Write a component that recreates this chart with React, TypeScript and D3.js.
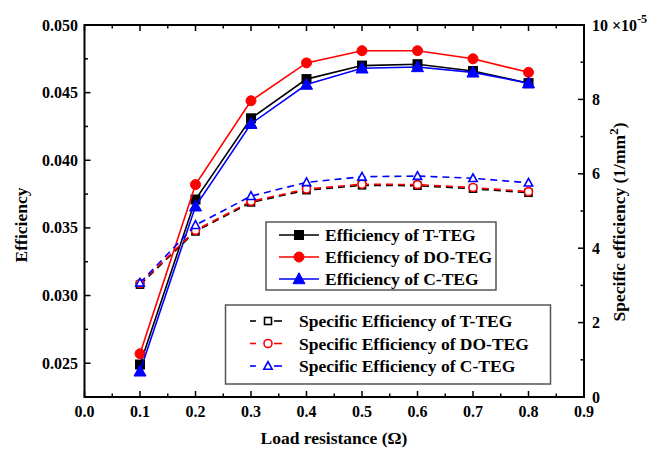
import React from "react";
import * as d3 from "d3";

// Load resistance (Ω)
const loads = [0.1, 0.2, 0.3, 0.4, 0.5, 0.6, 0.7, 0.8];

// Efficiency (left axis)
const effT = [0.0249, 0.0371, 0.0431, 0.0460, 0.0470, 0.0471, 0.0466, 0.0457];
const effDO = [0.0257, 0.0382, 0.0444, 0.0472, 0.0481, 0.0481, 0.0475, 0.0465];
const effC = [0.0244, 0.0366, 0.0427, 0.0456, 0.0468, 0.0469, 0.0465, 0.0457];

// Specific efficiency, in units of 1e-5 1/mm² (right axis)
const specT = [3.02, 4.45, 5.23, 5.56, 5.69, 5.68, 5.60, 5.49];
const specDO = [3.05, 4.48, 5.26, 5.59, 5.72, 5.71, 5.63, 5.52];
const specC = [3.07, 4.62, 5.40, 5.77, 5.92, 5.94, 5.88, 5.76];

const xTicks = [0, 0.1, 0.2, 0.3, 0.4, 0.5, 0.6, 0.7, 0.8, 0.9];
const leftTicks = [0.025, 0.03, 0.035, 0.04, 0.045, 0.05];
const rightTicks = [0, 2, 4, 6, 8, 10];

const effLegend = ["Efficiency of T-TEG", "Efficiency of DO-TEG", "Efficiency of C-TEG"];
const specLegend = [
  "Specific Efficiency of T-TEG",
  "Specific Efficiency of DO-TEG",
  "Specific Efficiency of C-TEG",
];

const W = 659;
const H = 453;
const L = 84.5;
const R = 584;
const T = 25;
const B = 397;
const FONT = '"Liberation Serif", "DejaVu Serif", serif';
const TICK_FS = 16;
const TEXT_FS = 17.5;

const x = d3.scaleLinear().domain([0, 0.9]).range([L, R]);
const yL = d3.scaleLinear().domain([0.0225, 0.05]).range([B, T]);
const yR = d3.scaleLinear().domain([0, 10]).range([B, T]);

type Shape = "square" | "circle" | "triangle";

function Marker({ cx, cy, shape, color, open, size }: { cx: number; cy: number; shape: Shape; color: string; open: boolean; size: number }) {
  const fill = open ? "#fff" : color;
  const sw = open ? 1.6 : 1;
  if (shape === "square") {
    return <rect x={cx - size / 2} y={cy - size / 2} width={size} height={size} fill={fill} stroke={color} strokeWidth={sw} />;
  }
  if (shape === "circle") {
    return <circle cx={cx} cy={cy} r={size / 2 + 0.5} fill={fill} stroke={color} strokeWidth={sw} />;
  }
  const h = size * 1.05;
  const pts = `${cx},${cy - h * 0.6} ${cx - size * 0.6},${cy + h * 0.45} ${cx + size * 0.6},${cy + h * 0.45}`;
  return <polygon points={pts} fill={fill} stroke={color} strokeWidth={sw} strokeLinejoin="miter" />;
}

const effSeries = [
  { vals: effT, color: "#000000", shape: "square" as Shape },
  { vals: effDO, color: "#ff0000", shape: "circle" as Shape },
  { vals: effC, color: "#0000ff", shape: "triangle" as Shape },
];
const specSeries = [
  { vals: specT, color: "#000000", shape: "square" as Shape },
  { vals: specDO, color: "#ff0000", shape: "circle" as Shape },
  { vals: specC, color: "#0000ff", shape: "triangle" as Shape },
];

export default function App() {
  const lineL = d3
    .line<number>()
    .x((_, i) => x(loads[i]))
    .y((d) => yL(d));
  const lineR = d3
    .line<number>()
    .x((_, i) => x(loads[i]))
    .y((d) => yR(d));

  const xMinor = d3.range(0.05, 0.9, 0.1);
  const lMinor = d3.range(0.0225, 0.05, 0.005);
  const rMinor = d3.range(1, 10, 2);

  return (
    <svg width={W} height={H} style={{ position: "absolute", left: 0, top: 0, fontFamily: FONT, fontWeight: "bold" }}>
      <rect width={W} height={H} fill="#fff" />

      {/* efficiency curves */}
      {effSeries.map((s, k) => (
        <g key={"e" + k}>
          <path d={lineL(s.vals) || ""} fill="none" stroke={s.color} strokeWidth={1.6} />
          {s.vals.map((v, i) => (
            <Marker key={i} cx={x(loads[i])} cy={yL(v)} shape={s.shape} color={s.color} open={false} size={s.shape === "triangle" ? 10 : 9} />
          ))}
        </g>
      ))}

      {/* specific efficiency curves */}
      {specSeries.map((s, k) => (
        <g key={"s" + k}>
          <path d={lineR(s.vals) || ""} fill="none" stroke={s.color} strokeWidth={1.6} strokeDasharray="7 5" />
          {s.vals.map((v, i) => (
            <Marker key={i} cx={x(loads[i])} cy={yR(v)} shape={s.shape} color={s.color} open={true} size={7} />
          ))}
        </g>
      ))}

      {/* frame */}
      <rect x={L} y={T} width={R - L} height={B - T} fill="none" stroke="#000" strokeWidth={2} />

      {/* x ticks (bottom and top, inward) */}
      {xTicks.map((t) => (
        <g key={"xt" + t}>
          <line x1={x(t)} x2={x(t)} y1={B} y2={B - 6} stroke="#000" strokeWidth={1.5} />
          <line x1={x(t)} x2={x(t)} y1={T} y2={T + 6} stroke="#000" strokeWidth={1.5} />
          <text x={x(t)} y={417} textAnchor="middle" fontSize={TICK_FS}>
            {t.toFixed(1)}
          </text>
        </g>
      ))}
      {xMinor.map((t) => (
        <g key={"xm" + t}>
          <line x1={x(t)} x2={x(t)} y1={B} y2={B - 3.5} stroke="#000" strokeWidth={1.5} />
          <line x1={x(t)} x2={x(t)} y1={T} y2={T + 3.5} stroke="#000" strokeWidth={1.5} />
        </g>
      ))}

      {/* left axis */}
      {leftTicks.map((t) => (
        <g key={"lt" + t}>
          <line x1={L} x2={L + 6} y1={yL(t)} y2={yL(t)} stroke="#000" strokeWidth={1.5} />
          <text x={78} y={yL(t) + 5.5} textAnchor="end" fontSize={TICK_FS}>
            {t.toFixed(3)}
          </text>
        </g>
      ))}
      {lMinor.map((t) => (
        <line key={"lm" + t} x1={L} x2={L + 3.5} y1={yL(t)} y2={yL(t)} stroke="#000" strokeWidth={1.5} />
      ))}

      {/* right axis */}
      {rightTicks.map((t) => (
        <g key={"rt" + t}>
          <line x1={R} x2={R - 6} y1={yR(t)} y2={yR(t)} stroke="#000" strokeWidth={1.5} />
          <text x={592} y={yR(t) + 5.5} textAnchor="start" fontSize={TICK_FS}>
            {t}
            {t === 10 ? (
              <>
                <tspan dx={4}>×10</tspan>
                <tspan dy={-8} fontSize={12}>-5</tspan>
              </>
            ) : null}
          </text>
        </g>
      ))}
      {rMinor.map((t) => (
        <line key={"rm" + t} x1={R} x2={R - 3.5} y1={yR(t)} y2={yR(t)} stroke="#000" strokeWidth={1.5} />
      ))}

      {/* axis titles */}
      <text x={334} y={444} textAnchor="middle" fontSize={TEXT_FS}>
        Load resistance (Ω)
      </text>
      <text transform={`translate(27,225) rotate(-90)`} textAnchor="middle" fontSize={TEXT_FS}>
        Efficiency
      </text>
      <text transform={`translate(625,222) rotate(-90)`} textAnchor="middle" fontSize={TEXT_FS}>
        Specific efficiency (1/mm
        <tspan dy={-7} fontSize={13}>2</tspan>
        <tspan dy={7}>)</tspan>
      </text>

      {/* legend: efficiency */}
      <rect x={266} y={222} width={230} height={68} fill="#fff" stroke="#555" strokeWidth={1.5} />
      {effSeries.map((s, k) => {
        const cy = 235 + k * 22;
        return (
          <g key={"le" + k}>
            <line x1={279} x2={319} y1={cy} y2={cy} stroke={s.color} strokeWidth={1.6} />
            <Marker cx={299} cy={cy} shape={s.shape} color={s.color} open={false} size={s.shape === "triangle" ? 10 : 9} />
            <text x={325} y={cy + 6} fontSize={TEXT_FS}>
              {effLegend[k]}
            </text>
          </g>
        );
      })}

      {/* legend: specific efficiency */}
      <rect x={225.5} y={305} width={325} height={79} fill="#fff" stroke="#555" strokeWidth={1.5} />
      {specSeries.map((s, k) => {
        const cy = 321 + k * 22.5;
        return (
          <g key={"ls" + k}>
            <line x1={250} x2={256} y1={cy} y2={cy} stroke={s.color} strokeWidth={1.6} />
            <line x1={274} x2={282} y1={cy} y2={cy} stroke={s.color} strokeWidth={1.6} />
            <Marker cx={268} cy={cy} shape={s.shape} color={s.color} open={true} size={7} />
            <text x={299} y={cy + 6} fontSize={TEXT_FS}>
              {specLegend[k]}
            </text>
          </g>
        );
      })}
    </svg>
  );
}
